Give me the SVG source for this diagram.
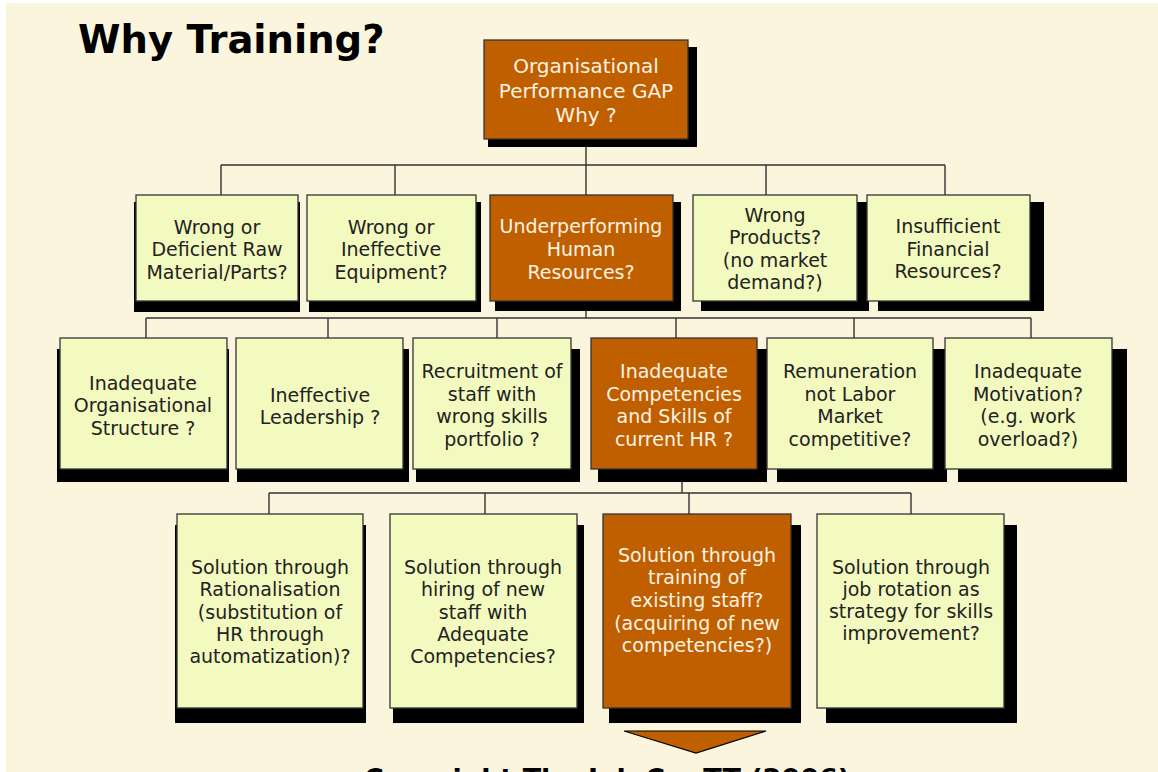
<svg xmlns="http://www.w3.org/2000/svg" width="1158" height="772" viewBox="0 0 1158 772">
<style>
.sh{fill:#000}
.lt{fill:#F3FAC0;stroke:#333;stroke-width:1.3}
.or{fill:#C05F00;stroke:#333;stroke-width:1.3}
text{font-family:"DejaVu Sans","Verdana",sans-serif;font-size:19px;text-anchor:middle}
.tl{fill:#222}
.tw{fill:#FFF3E4}
.ln{fill:none;stroke:#333;stroke-width:1.4}
</style>
<rect x="0" y="0" width="1158" height="772" fill="#fff"/>
<rect x="6" y="3" width="1152" height="769" fill="#FBF5DE"/>
<text x="78" y="53" style="font-size:38.5px;font-weight:bold;text-anchor:start;fill:#000">Why Training?</text>

<g id="connectors" class="ln">
<path d="M586 139V195M221 165H945M221 165V195M395 165V195M766 165V195M945 165V195"/>
<path d="M586 302V318M146 318H1031M146 318V338M328 318V338M497 318V338M676 318V338M854 318V338M1031 318V338"/>
<path d="M682 469V493M269 493H911M269 493V514M485 493V514M689 493V514M911 493V514"/>
</g>

<g id="shadows">
<rect class="sh" x="488" y="47" width="209" height="100"/>
<rect class="sh" x="134" y="202" width="166" height="110"/>
<rect class="sh" x="309" y="202" width="172" height="110"/>
<rect class="sh" x="495" y="202" width="186" height="109"/>
<rect class="sh" x="701" y="202" width="168" height="109"/>
<rect class="sh" x="878" y="202" width="166" height="109"/>
<rect class="sh" x="57" y="349" width="172" height="133"/>
<rect class="sh" x="237" y="349" width="172" height="133"/>
<rect class="sh" x="416" y="349" width="164" height="133"/>
<rect class="sh" x="598" y="349" width="169" height="133"/>
<rect class="sh" x="777" y="349" width="170" height="133"/>
<rect class="sh" x="958" y="349" width="169" height="133"/>
<rect class="sh" x="175" y="525" width="191" height="198"/>
<rect class="sh" x="393" y="525" width="191" height="198"/>
<rect class="sh" x="609" y="525" width="192" height="198"/>
<rect class="sh" x="826" y="525" width="191" height="198"/>
</g>

<g id="n-gap">
<rect class="or" x="484" y="40" width="204" height="99"/>
<text class="tw" x="586" style="font-size:20px"><tspan x="586" y="73">Organisational</tspan><tspan x="586" y="98">Performance GAP</tspan><tspan x="586" y="122">Why ?</tspan></text>
</g>

<g id="n-raw">
<rect class="lt" x="136" y="195" width="162" height="106"/>
<text class="tl"><tspan x="217" y="234">Wrong or</tspan><tspan x="217" y="256">Deficient Raw</tspan><tspan x="217" y="279">Material/Parts?</tspan></text>
</g>
<g id="n-equip">
<rect class="lt" x="307" y="195" width="169" height="106"/>
<text class="tl"><tspan x="391" y="234">Wrong or</tspan><tspan x="391" y="256">Ineffective</tspan><tspan x="391" y="279">Equipment?</tspan></text>
</g>
<g id="n-hr">
<rect class="or" x="490" y="195" width="183" height="106"/>
<text class="tw"><tspan x="581" y="233">Underperforming</tspan><tspan x="581" y="256">Human</tspan><tspan x="581" y="279">Resources?</tspan></text>
</g>
<g id="n-products">
<rect class="lt" x="693" y="195" width="164" height="106"/>
<text class="tl"><tspan x="775" y="222">Wrong</tspan><tspan x="775" y="244">Products?</tspan><tspan x="775" y="267">(no market</tspan><tspan x="775" y="289">demand?)</tspan></text>
</g>
<g id="n-finance">
<rect class="lt" x="867" y="195" width="163" height="106"/>
<text class="tl"><tspan x="948" y="233">Insufficient</tspan><tspan x="948" y="256">Financial</tspan><tspan x="948" y="278">Resources?</tspan></text>
</g>

<g id="n-structure">
<rect class="lt" x="60" y="338" width="167" height="131"/>
<text class="tl"><tspan x="143" y="390">Inadequate</tspan><tspan x="143" y="412">Organisational</tspan><tspan x="143" y="435">Structure ?</tspan></text>
</g>
<g id="n-leader">
<rect class="lt" x="236" y="338" width="167" height="131"/>
<text class="tl"><tspan x="320" y="402">Ineffective</tspan><tspan x="320" y="424">Leadership ?</tspan></text>
</g>
<g id="n-recruit">
<rect class="lt" x="413" y="338" width="158" height="131"/>
<text class="tl"><tspan x="492" y="378">Recruitment of</tspan><tspan x="492" y="401">staff with</tspan><tspan x="492" y="423">wrong skills</tspan><tspan x="492" y="446">portfolio ?</tspan></text>
</g>
<g id="n-competencies">
<rect class="or" x="591" y="338" width="166" height="131"/>
<text class="tw"><tspan x="674" y="378">Inadequate</tspan><tspan x="674" y="401">Competencies</tspan><tspan x="674" y="423">and Skills of</tspan><tspan x="674" y="446">current HR ?</tspan></text>
</g>
<g id="n-remuneration">
<rect class="lt" x="767" y="338" width="166" height="131"/>
<text class="tl"><tspan x="850" y="378">Remuneration</tspan><tspan x="850" y="401">not Labor</tspan><tspan x="850" y="423">Market</tspan><tspan x="850" y="446">competitive?</tspan></text>
</g>
<g id="n-motivation">
<rect class="lt" x="945" y="338" width="167" height="131"/>
<text class="tl"><tspan x="1028" y="378">Inadequate</tspan><tspan x="1028" y="401">Motivation?</tspan><tspan x="1028" y="423">(e.g. work</tspan><tspan x="1028" y="446">overload?)</tspan></text>
</g>

<g id="n-rational">
<rect class="lt" x="177" y="514" width="186" height="194"/>
<text class="tl"><tspan x="270" y="574">Solution through</tspan><tspan x="270" y="596">Rationalisation</tspan><tspan x="270" y="619">(substitution of</tspan><tspan x="270" y="641">HR through</tspan><tspan x="270" y="663">automatization)?</tspan></text>
</g>
<g id="n-hiring">
<rect class="lt" x="390" y="514" width="187" height="194"/>
<text class="tl"><tspan x="483" y="574">Solution through</tspan><tspan x="483" y="596">hiring of new</tspan><tspan x="483" y="619">staff with</tspan><tspan x="483" y="641">Adequate</tspan><tspan x="483" y="663">Competencies?</tspan></text>
</g>
<g id="n-training">
<rect class="or" x="603" y="514" width="188" height="194"/>
<text class="tw"><tspan x="697" y="562">Solution through</tspan><tspan x="697" y="584">training of</tspan><tspan x="697" y="607">existing staff?</tspan><tspan x="697" y="630">(acquiring of new</tspan><tspan x="697" y="652">competencies?)</tspan></text>
</g>
<g id="n-rotation">
<rect class="lt" x="817" y="514" width="187" height="194"/>
<text class="tl"><tspan x="911" y="574">Solution through</tspan><tspan x="911" y="596">job rotation as</tspan><tspan x="911" y="618">strategy for skills</tspan><tspan x="911" y="640">improvement?</tspan></text>
</g>

<g id="n-arrow">
<polygon points="624,731 766,731 696,753" fill="#C05F00" stroke="#000" stroke-width="1.2"/>
</g>
<text x="607" y="788" style="font-size:27px;font-weight:bold;fill:#000">Copyright The Job Co. TT (2006)</text>
</svg>
